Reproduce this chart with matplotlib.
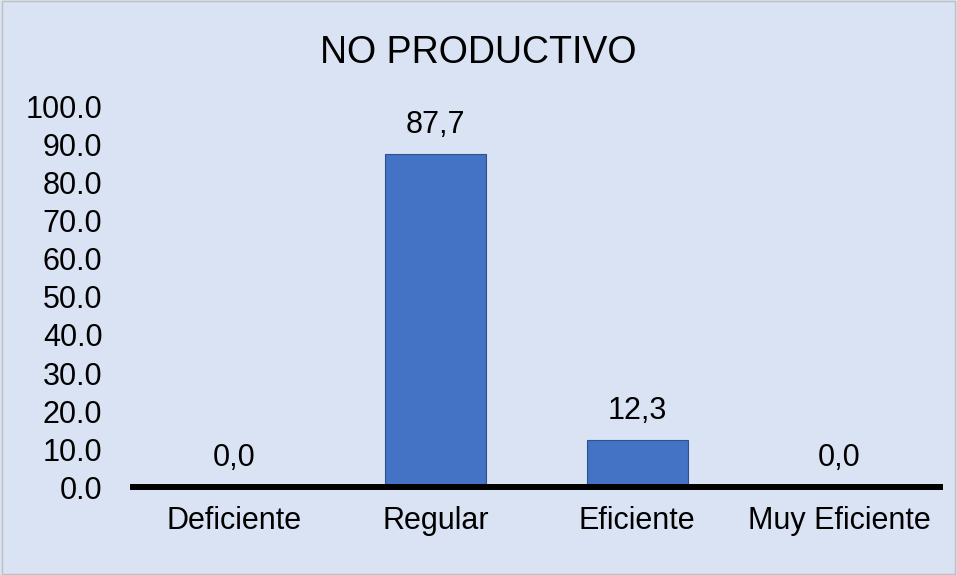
import matplotlib
matplotlib.use("Agg")
import matplotlib.pyplot as plt

# ── Data ─────────────────────────────────────────────────────────────────────
categories = ["Deficiente", "Regular", "Eficiente", "Muy Eficiente"]
values = [0.0, 87.7, 12.3, 0.0]
value_labels = ["0,0", "87,7", "12,3", "0,0"]
y_ticks = [0, 10, 20, 30, 40, 50, 60, 70, 80, 90, 100]

# ── Styling ──────────────────────────────────────────────────────────────────
BG = "#DAE3F3"
BAR = "#4472C4"
BAR_EDGE = "#2F528F"

plt.rcParams["font.family"] = ["Liberation Sans", "DejaVu Sans"]

fig = plt.figure(figsize=(9.57, 5.75), dpi=100, facecolor=BG)
ax = fig.add_axes([0.139, 0.153, 0.843, 0.661])
ax.set_facecolor(BG)

x = range(len(categories))
ax.bar(x, values, width=0.5, color=BAR, edgecolor=BAR_EDGE, linewidth=0.8, zorder=2)

for xi, v, lab in zip(x, values, value_labels):
    ax.annotate(lab, xy=(xi, v), xytext=(0, 10), textcoords="offset points",
                ha="center", va="bottom", fontsize=22, color="black")

ax.set_xlim(-0.5, len(categories) - 0.5)
ax.set_ylim(0, 100)
ax.set_yticks(y_ticks)
ax.set_yticklabels([f"{t:.1f}" for t in y_ticks])
ax.set_xticks(list(x))
ax.set_xticklabels(categories)
ax.tick_params(axis="both", length=0, labelsize=22, colors="black")
ax.tick_params(axis="x", pad=14)
ax.tick_params(axis="y", pad=22)

for side in ["top", "right", "left"]:
    ax.spines[side].set_visible(False)
ax.spines["bottom"].set_linewidth(4.3)
ax.spines["bottom"].set_color("black")
ax.spines["bottom"].set_zorder(3)

fig.text(0.5, 0.908, "NO PRODUCTIVO", ha="center", va="center", fontsize=27, color="black")

# thin frame around the chart area
fig.patches.append(plt.Rectangle((0.002, 0.002), 0.996, 0.996, transform=fig.transFigure,
                                 fill=False, edgecolor="#BFBFBF", linewidth=1))

plt.savefig("out.png", dpi=100, facecolor=BG)
